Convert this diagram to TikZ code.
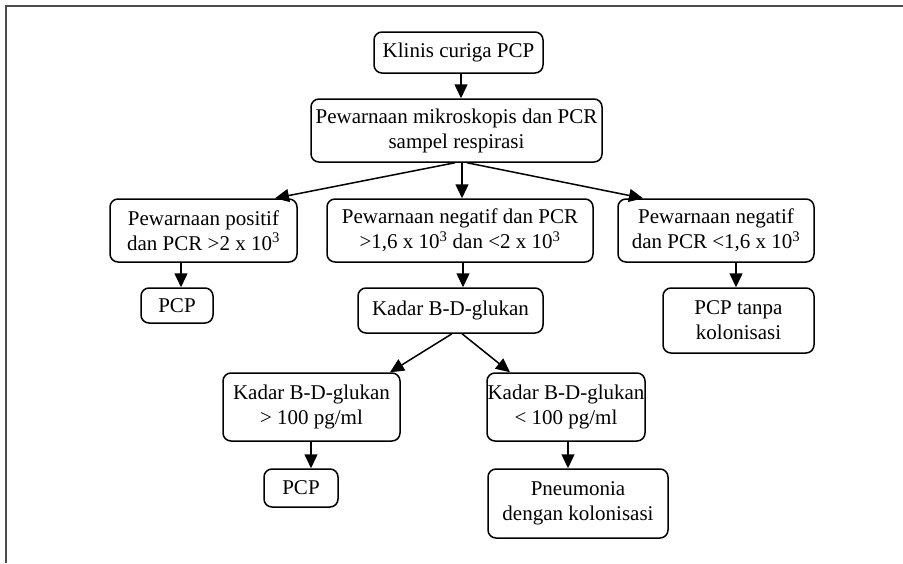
\documentclass[tikz,border=0pt]{standalone}
\usepackage{fontspec}
\setmainfont{Liberation Serif}
\usetikzlibrary{arrows.meta}
\begin{document}
\begin{tikzpicture}[x=1pt,y=-1pt,
  box/.style={draw=black, line width=1.5pt, rounded corners=8pt, inner sep=0pt,
    align=center, font=\fontsize{21}{25}\selectfont},
  arr/.style={draw=black, line width=1.5pt, -{Triangle[length=14pt,width=13pt]}},
  frame/.style={draw=black!70, line width=2.2pt}]
\useasboundingbox (0,0) rectangle (903,563);
\draw[frame] (6,563) -- (6,6) -- (903,6);
\node[box, minimum width=169pt, minimum height=41pt] (n1) at (458.5,52.5) {Klinis curiga PCP};
\node[box, minimum width=291pt, minimum height=63pt] (n2) at (456.5,130.5) {Pewarnaan mikroskopis dan PCR\\sampel respirasi};
\node[box, minimum width=187pt, minimum height=63pt] (n3) at (203.5,230.5) {Pewarnaan positif\\dan PCR >2 x 10\textsuperscript{3}};
\node[box, minimum width=266pt, minimum height=63pt] (n4) at (460,230.5) {Pewarnaan negatif dan PCR\\>1,6 x 10\textsuperscript{3} dan <2 x 10\textsuperscript{3}};
\node[box, minimum width=196pt, minimum height=63pt] (n5) at (716,230.5) {Pewarnaan negatif\\dan PCR <1,6 x 10\textsuperscript{3}};
\node[box, minimum width=72pt, minimum height=35pt] (p1) at (177,305.5) {PCP};
\node[box, minimum width=185pt, minimum height=45pt] (k) at (450.5,310.5) {Kadar B-D-glukan};
\node[box, minimum width=151pt, minimum height=65pt] (pt) at (738.5,320.5) {PCP tanpa\\kolonisasi};
\node[box, minimum width=177pt, minimum height=68pt] (k1) at (311.5,407) {Kadar B-D-glukan\\> 100 pg/ml};
\node[box, minimum width=158pt, minimum height=68pt] (k2) at (566,407) {Kadar B-D-glukan\\< 100 pg/ml};
\node[box, minimum width=74pt, minimum height=38pt] (p2) at (301,488) {PCP};
\node[box, minimum width=180pt, minimum height=69pt] (pn) at (578,503.5) {Pneumonia\\dengan kolonisasi};
\draw[arr] ([xshift=2.5pt]n1.south) -- ([xshift=4.5pt]n2.north);
\draw[arr] ([xshift=5.5pt]n2.south) -- ([xshift=2pt]n4.north);
\draw[arr] ([xshift=-1.5pt]n2.south) -- ([xshift=71.5pt]n3.north);
\draw[arr] ([xshift=10.5pt]n2.south) -- ([xshift=-73pt]n5.north);
\draw[arr] ([xshift=-22.5pt]n3.south) -- ([xshift=4pt]p1.north);
\draw[arr] ([xshift=3pt]n4.south) -- ([xshift=12.5pt]k.north);
\draw[arr] ([xshift=20pt]n5.south) -- ([xshift=-2.5pt]pt.north);
\draw[arr] ([xshift=1.5pt]k.south) -- ([xshift=78.5pt]k1.north);
\draw[arr] ([xshift=11.5pt]k.south) -- ([xshift=-56pt]k2.north);
\draw[arr] ([xshift=-0.5pt]k1.south) -- ([xshift=10pt]p2.north);
\draw[arr] ([xshift=2pt]k2.south) -- ([xshift=-10pt]pn.north);
\end{tikzpicture}
\end{document}
